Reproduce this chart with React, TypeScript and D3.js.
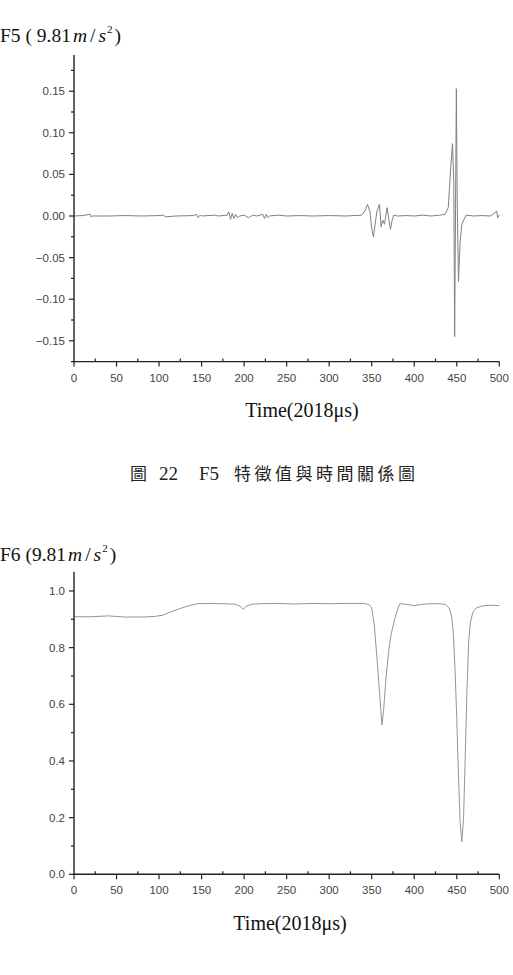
import React from 'react';
import * as d3 from 'd3';

// F5 feature value vs time (unit 9.81 m/s^2)
const f5Time = [0, 10, 19, 20, 22, 40, 60, 80, 100, 105, 108, 120, 140, 144, 146, 148, 150, 165, 170, 180, 182, 184, 186, 188, 190, 192, 195, 200, 205, 210, 215, 222, 224, 226, 228, 230, 240, 250, 265, 280, 300, 320, 338, 342, 345, 348, 350, 352, 354, 356, 359, 360, 361, 363, 365, 367, 368, 370, 372, 374, 376, 380, 390, 400, 410, 420, 430, 436, 440, 443, 445, 446.5, 447.5, 448.5, 449.5, 450.5, 452, 454, 456, 458, 461, 470, 480, 490, 497, 498, 500];
const f5Value = [0, 0.0005, 0.002, -0.001, 0, 0, 0.0005, 0, 0.0005, 0.001, -0.001, 0, 0.0005, 0.002, -0.002, 0.001, 0, 0.001, 0, 0.001, 0.005, -0.004, 0.003, -0.003, 0.002, -0.002, 0, 0.001, -0.002, 0.001, 0, 0.002, -0.003, 0.002, -0.002, 0, 0.001, 0, 0.0005, 0, 0.0005, 0, 0.001, 0.006, 0.014, 0.005, -0.015, -0.025, -0.01, 0.005, 0.014, 0.003, -0.013, -0.005, -0.01, 0.003, 0.01, -0.003, -0.016, -0.005, 0.001, 0, 0.0005, 0, 0.001, 0, 0.001, 0.002, 0.01, 0.06, 0.087, 0.04, -0.145, 0, 0.153, 0.02, -0.079, -0.03, -0.01, -0.005, 0.001, 0, 0.0005, 0, 0.006, -0.002, 0.001];

// F6 feature value vs time
const f6Time = [0, 20, 40, 60, 80, 95, 105, 115, 125, 135, 145, 160, 175, 190, 196, 199, 202, 208, 220, 240, 260, 280, 300, 320, 340, 347, 350, 353, 356, 359, 362, 364, 367, 370, 373, 377, 380, 383, 390, 400, 410, 420, 430, 437, 441, 444, 446, 448, 450, 452, 454, 456, 458, 460, 462, 464, 466, 469, 473, 480, 490, 500];
const f6Value = [0.909, 0.909, 0.912, 0.908, 0.908, 0.91, 0.915, 0.928, 0.938, 0.948, 0.955, 0.956, 0.955, 0.953, 0.945, 0.935, 0.945, 0.953, 0.955, 0.956, 0.954, 0.956, 0.955, 0.956, 0.956, 0.952, 0.94, 0.88, 0.77, 0.65, 0.527, 0.58, 0.7, 0.79, 0.85, 0.9, 0.93, 0.955, 0.953, 0.948, 0.953, 0.955, 0.955, 0.952, 0.94, 0.91, 0.85, 0.72, 0.55, 0.35, 0.18, 0.115, 0.2, 0.42, 0.65, 0.82, 0.89, 0.925, 0.94, 0.947, 0.95, 0.948];

const xTicks = [0, 50, 100, 150, 200, 250, 300, 350, 400, 450, 500];
const xMinor = [25, 75, 125, 175, 225, 275, 325, 375, 425, 475];
const f5Ticks = [-0.15, -0.1, -0.05, 0, 0.05, 0.1, 0.15];
const f5Minor = [-0.175, -0.125, -0.075, -0.025, 0.025, 0.075, 0.125, 0.175];
const f6Ticks = [0, 0.2, 0.4, 0.6, 0.8, 1.0];
const f6Minor = [0.1, 0.3, 0.5, 0.7, 0.9];

const sansFont = '"Liberation Sans", Arial, sans-serif';
const serifFont = '"Liberation Serif", "Times New Roman", serif';
const cjkFont = '"Noto Sans CJK TC", "Liberation Serif", serif';

type PanelProps = {
  times: number[];
  values: number[];
  yDomain: [number, number];
  yRange: [number, number];
  yTicks: number[];
  yMinor: number[];
  yFormat: (v: number) => string;
  stroke: string;
};

const Panel = ({ times, values, yDomain, yRange, yTicks, yMinor, yFormat, stroke }: PanelProps) => {
  const x = d3.scaleLinear().domain([0, 500]).range([74, 499.3]);
  const y = d3.scaleLinear().domain(yDomain).range(yRange);
  const pts: [number, number][] = times.map((t, i) => [t, values[i]]);
  const line = d3.line<[number, number]>().x(d => x(d[0])).y(d => y(d[1]));
  const axisY = yRange[0];

  return (
    <g>
      <path d={line(pts) || ''} fill="none" stroke={stroke} strokeWidth={1} strokeLinejoin="round" />
      {/* y axis */}
      <line x1={74} x2={74} y1={yRange[1]} y2={axisY} stroke="#222" strokeWidth={1.4} />
      {yTicks.map(v => (
        <g key={'yt' + v}>
          <line x1={69} x2={74} y1={y(v)} y2={y(v)} stroke="#222" strokeWidth={1.2} />
          <text x={65} y={y(v) + 4} textAnchor="end" fontSize={11.5} fill="#444" fontFamily={sansFont}>
            {yFormat(v)}
          </text>
        </g>
      ))}
      {yMinor.map(v => (
        <line key={'ym' + v} x1={71} x2={74} y1={y(v)} y2={y(v)} stroke="#222" strokeWidth={1.2} />
      ))}
      {/* x axis */}
      <line x1={73} x2={499.3} y1={axisY} y2={axisY} stroke="#222" strokeWidth={1.4} />
      {xTicks.map(v => (
        <g key={'xt' + v}>
          <line x1={x(v)} x2={x(v)} y1={axisY} y2={axisY + 5} stroke="#222" strokeWidth={1.2} />
          <text x={x(v)} y={axisY + 20} textAnchor="middle" fontSize={11.5} fill="#444" fontFamily={sansFont}>
            {v}
          </text>
        </g>
      ))}
      {xMinor.map(v => (
        <line key={'xm' + v} x1={x(v)} x2={x(v)} y1={axisY - 3} y2={axisY} stroke="#222" strokeWidth={1.2} />
      ))}
    </g>
  );
};

const UnitLabel = ({ name, x, y, gap }: { name: string; x: number; y: number; gap: string }) => (
  <text x={x} y={y} fontSize={19.5} fontFamily={serifFont} fill="#111">
    {name + ' (' + gap + '9.81'}
    <tspan fontStyle="italic" dx={2}>m</tspan>
    <tspan dx={3}>/</tspan>
    <tspan fontStyle="italic" dx={3}>s</tspan>
    <tspan fontSize={11} dy={-9} dx={1}>2</tspan>
    <tspan dy={9} dx={2}>)</tspan>
  </text>
);

const App = () => {
  return (
    <div style={{ position: 'absolute', left: 0, top: 0 }}>
      <svg width={513} height={975} style={{ display: 'block', background: '#fff' }}>
        <UnitLabel name="F5" x={0} y={42} gap=" " />
        <Panel
          times={f5Time}
          values={f5Value}
          yDomain={[-0.175, 0.1935]}
          yRange={[361.6, 55]}
          yTicks={f5Ticks}
          yMinor={f5Minor}
          yFormat={d3.format('.2f')}
          stroke="#808080"
        />
        <text x={302} y={417} textAnchor="middle" fontSize={20} fontFamily={serifFont} fill="#111">
          Time(2018μs)
        </text>
        <text x={130} y={480} fontSize={17} fill="#222">
          <tspan fontFamily={cjkFont}>圖</tspan>
          <tspan x={159} fontFamily={serifFont} fontSize={19}>22</tspan>
          <tspan x={199} fontFamily={serifFont} fontSize={19}>F5</tspan>
          <tspan x={234} fontFamily={cjkFont} letterSpacing={3.5}>特徵值與時間關係圖</tspan>
        </text>

        <UnitLabel name="F6" x={0} y={561} gap="" />
        <Panel
          times={f6Time}
          values={f6Value}
          yDomain={[0, 1.068]}
          yRange={[874.3, 571.7]}
          yTicks={f6Ticks}
          yMinor={f6Minor}
          yFormat={d3.format('.1f')}
          stroke="#959595"
        />
        <text x={290} y={930} textAnchor="middle" fontSize={20} fontFamily={serifFont} fill="#111">
          Time(2018μs)
        </text>
      </svg>
    </div>
  );
};

export default App;
